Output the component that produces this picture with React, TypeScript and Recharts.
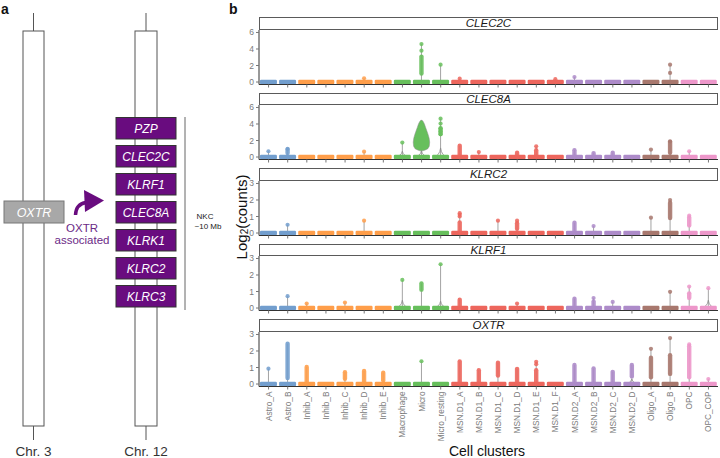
import React from 'react';
import { ComposedChart, Bar, XAxis, YAxis } from 'recharts';

const FONT = 'Liberation Sans, Arial, Helvetica, sans-serif';

const clusters = [
  'Astro_A', 'Astro_B', 'Inhib_A', 'Inhib_B', 'Inhib_C', 'Inhib_D', 'Inhib_E',
  'Macrophage', 'Micro', 'Micro_resting',
  'MSN.D1_A', 'MSN.D1_B', 'MSN.D1_C', 'MSN.D1_D', 'MSN.D1_E', 'MSN.D1_F',
  'MSN.D2_A', 'MSN.D2_B', 'MSN.D2_C', 'MSN.D2_D',
  'Oligo_A', 'Oligo_B', 'OPC', 'OPC_COP',
];
const clusterGroup = [
  'Astro', 'Astro', 'Inhib', 'Inhib', 'Inhib', 'Inhib', 'Inhib',
  'Micro', 'Micro', 'Micro',
  'D1', 'D1', 'D1', 'D1', 'D1', 'D1',
  'D2', 'D2', 'D2', 'D2',
  'Oligo', 'Oligo', 'OPC', 'OPC',
];
const groupColor: Record<string, string> = {
  Astro: '#729ECE', Inhib: '#FF9E4A', Micro: '#67BF5C', D1: '#ED665D',
  D2: '#AD8BC9', Oligo: '#A8786E', OPC: '#ED97CA',
};

const genes = ['CLEC2C', 'CLEC8A', 'KLRC2', 'KLRF1', 'OXTR'];
const geneScaleMax = [6, 6, 3, 3, 3];
const ticks6 = [0, 2, 4, 6];
const ticks3 = [0, 1, 2, 3];

// single points (log2 counts)
const clec2cDots: Record<string, number[]> = {
  Inhib_D: [0.45], Micro: [4.6, 3.8], Micro_resting: [2.1], 'MSN.D1_A': [0.4],
  'MSN.D1_F': [0.35], 'MSN.D2_A': [0.6], Oligo_B: [2.1, 1.1],
};
const clec8aDots: Record<string, number[]> = {
  Astro_A: [0.7], Astro_B: [1.0], Inhib_D: [0.65], Macrophage: [1.75],
  Micro_resting: [4.65, 4.05, 3.45, 3.1, 2.75], 'MSN.D1_B': [0.6], 'MSN.D1_E': [1.3],
  Oligo_A: [0.9], Oligo_B: [1.9], OPC: [0.7],
};
const klrc2Dots: Record<string, number[]> = {
  Astro_B: [0.5], Inhib_D: [0.75], 'MSN.D1_A': [1.2, 1.1, 1.0], 'MSN.D1_C': [0.75],
  'MSN.D1_D': [0.75], 'MSN.D2_B': [0.42], Oligo_A: [0.93], Oligo_B: [2.0], OPC: [1.05],
};
const klrf1Dots: Record<string, number[]> = {
  Astro_B: [0.72], Inhib_A: [0.27], Inhib_C: [0.33], Macrophage: [1.7], Micro_resting: [2.65],
  'MSN.D1_D': [0.27], 'MSN.D2_B': [0.6], 'MSN.D2_C': [0.37], Oligo_B: [0.98], OPC: [1.3],
  OPC_COP: [1.2],
};
const oxtrDots: Record<string, number[]> = {
  Astro_A: [0.93], Micro: [1.38], 'MSN.D1_E': [1.35, 1.2], Oligo_A: [2.13], Oligo_B: [2.78],
  OPC: [2.4], OPC_COP: [0.3],
};

// dense columns of points [from, to]
const clec2cDense: Record<string, number[]> = { Micro: [1.0, 3.1] };
const clec8aDense: Record<string, number[]> = {
  Astro_B: [0.45, 0.95], Micro_resting: [2.75, 3.5], 'MSN.D1_A': [0, 1.4], 'MSN.D1_D': [0, 0.55],
  'MSN.D1_E': [0, 0.85], 'MSN.D2_A': [0, 0.85], 'MSN.D2_B': [0, 0.5], 'MSN.D2_C': [0, 0.55],
  Oligo_B: [0.5, 1.85],
};
const klrc2Dense: Record<string, number[]> = {
  'MSN.D1_A': [0, 0.65], 'MSN.D1_D': [0.25, 0.6], 'MSN.D2_A': [0, 0.63],
  Oligo_B: [0.9, 1.85], OPC: [0.45, 0.95],
};
const klrf1Dense: Record<string, number[]> = {
  Micro: [1.1, 1.5], 'MSN.D1_A': [0, 0.52], 'MSN.D2_A': [0, 0.58], 'MSN.D2_B': [0, 0.4],
  OPC: [0.6, 0.9],
};
const oxtrDense: Record<string, number[]> = {
  Astro_B: [0.35, 2.45], Inhib_A: [0, 1.05], Inhib_C: [0.3, 0.73], Inhib_D: [0, 0.8],
  Inhib_E: [0.2, 0.7], 'MSN.D1_A': [0, 1.38], 'MSN.D1_B': [0, 0.85], 'MSN.D1_C': [0.5, 1.3],
  'MSN.D1_D': [0, 0.93], 'MSN.D1_E': [0, 0.85], 'MSN.D2_A': [0, 1.17], 'MSN.D2_B': [0, 0.95],
  'MSN.D2_C': [0, 0.75], 'MSN.D2_D': [0.45, 1.17], Oligo_A: [0.4, 1.6], Oligo_B: [0.6, 1.75],
  OPC: [0.4, 2.3],
};

// level where the violin outline closes above the zero band
const clec2cFan: Record<string, number> = {};
const clec8aFan: Record<string, number> = { Macrophage: 0.7, Micro: 0.75, Micro_resting: 1.1 };
const klrc2Fan: Record<string, number> = {};
const klrf1Fan: Record<string, number> = { Macrophage: 0.47, Micro_resting: 0.42, OPC_COP: 0.47 };
const oxtrFan: Record<string, number> = { 'MSN.D2_D': 0.3 };

// CLEC8A in Micro: [level, relative width]
const clec8aMicroViolin: number[][] = [
  [0.75, 0.15], [0.85, 0.45], [1.0, 0.75], [1.3, 0.92], [1.8, 0.97], [2.3, 0.9],
  [2.8, 0.76], [3.2, 0.62], [3.6, 0.48], [4.0, 0.35], [4.3, 0.2], [4.45, 0.08],
];

const geneDots = [clec2cDots, clec8aDots, klrc2Dots, klrf1Dots, oxtrDots];
const geneDense = [clec2cDense, clec8aDense, klrc2Dense, klrf1Dense, oxtrDense];
const geneFan = [clec2cFan, clec8aFan, klrc2Fan, klrf1Fan, oxtrFan];

const nkcGenes = ['PZP', 'CLEC2C', 'KLRF1', 'CLEC8A', 'KLRK1', 'KLRC2', 'KLRC3'];

const stripTops = [17.3, 92.8, 168.3, 243.8, 319.3];
const stripH = 12.3;
const plotH = 54.5;
const padTop = 6;

function ViolinShape(props: any) {
  const { x, y, width, height, payload } = props;
  if (x == null || !payload) return null;
  const [lo, hi] = payload.range;
  const py = (v: number) => y + (height * (hi - v)) / (hi - lo);
  const cx = x + width / 2;
  const y0 = py(0);
  const c = payload.color;
  const parts: any[] = [];
  if (payload.top > 0) {
    parts.push(<line key="t" x1={cx} x2={cx} y1={y0} y2={py(payload.top)} stroke="#8c8c8c" strokeWidth={0.8} />);
  }
  if (payload.fan > 0) {
    const yf = py(payload.fan);
    const hw = width * 0.42;
    parts.push(
      <path key="f" d={`M${cx - hw},${y0} Q${cx - 1},${y0 - 1} ${cx},${yf} Q${cx + 1},${y0 - 1} ${cx + hw},${y0}`}
        fill="none" stroke="#8c8c8c" strokeWidth={0.8} />
    );
  }
  parts.push(<rect key="b" x={x} y={y0 - 2.3} width={width} height={4.6} rx={1.2} fill={c} />);
  if (payload.profile) {
    const prof: number[][] = payload.profile;
    const left = prof.map(([v, w]) => `${cx - (w * width) / 2},${py(v)}`);
    const right = prof.slice().reverse().map(([v, w]) => `${cx + (w * width) / 2},${py(v)}`);
    parts.push(<polygon key="v" points={[...left, ...right].join(' ')} fill={c} stroke="#8c8c8c" strokeWidth={0.5} strokeLinejoin="round" />);
  }
  if (payload.dense) {
    const [a, b] = payload.dense;
    parts.push(<rect key="d" x={cx - 2.2} y={py(b) - 2} width={4.4} height={py(a) - py(b) + 4} rx={2.2} fill={c} opacity={0.9} />);
  }
  payload.dots.forEach((v: number, i: number) => {
    parts.push(<circle key={'p' + i} cx={cx} cy={py(v)} r={2.1} fill={c} opacity={0.85} />);
  });
  return <g>{parts}</g>;
}

const renderClusterTick = (p: any) => (
  <text x={p.x} y={p.y} transform={`rotate(-90 ${p.x} ${p.y})`} textAnchor="end" dominantBaseline="central"
    fontSize={8.3} fill="#7a7a7a" fontFamily={FONT}>{p.payload.value}</text>
);

function Facet({ idx }: { idx: number }) {
  const gene = genes[idx];
  const ymax = geneScaleMax[idx];
  const lo = -ymax * 0.05;
  const hi = ymax * 1.05;
  const rows = clusters.map((name, i) => {
    const d = geneDots[idx][name] ?? [];
    const dn = geneDense[idx][name] ?? null;
    const prof = idx === 1 && name === 'Micro' ? clec8aMicroViolin : null;
    const top = Math.max(0, ...d, dn ? dn[1] : 0, ...(prof ? prof.map((p) => p[0]) : []));
    return {
      name, range: [lo, top], top, dots: d, dense: dn, fan: geneFan[idx][name] ?? 0,
      profile: prof, color: groupColor[clusterGroup[i]],
    };
  });
  const bottom = idx === genes.length - 1;
  const top = stripTops[idx];
  const axisH = bottom ? 62 : 5;
  return (
    <>
      <div style={{
        position: 'absolute', left: 259, top, width: 459, height: stripH, boxSizing: 'border-box',
        border: '1px solid #5a5a5a', background: '#fff', fontFamily: FONT, fontStyle: 'italic',
        fontSize: 11.5, lineHeight: `${stripH - 2}px`, textAlign: 'center', color: '#1a1a1a',
      }}>{gene}</div>
      <div style={{ position: 'absolute', left: 230, top: top + stripH - padTop }}>
        <ComposedChart width={490} height={plotH + axisH + padTop} data={rows}
          margin={{ top: padTop, right: 2, bottom: 0, left: 0 }} barCategoryGap="5%">
          <XAxis dataKey="name" interval={0} height={axisH} tickSize={3} tickMargin={2}
            tickLine={{ stroke: '#777' }} axisLine={{ stroke: '#333' }}
            tick={bottom ? renderClusterTick : () => <g />} />
          <YAxis type="number" domain={[lo, hi]} allowDataOverflow ticks={ymax === 6 ? ticks6 : ticks3}
            interval={0} width={29} tickSize={3} tickMargin={2} tickLine={{ stroke: '#777' }} axisLine={{ stroke: '#333' }}
            tick={{ fontSize: 8.5, fill: '#7a7a7a', fontFamily: FONT }} />
          <Bar dataKey="range" shape={(p: any) => <ViolinShape {...p} />} isAnimationActive={false} />
        </ComposedChart>
      </div>
    </>
  );
}

function Diagram() {
  const purple = '#690c7f';
  return (
    <svg width={720} height={458} style={{ position: 'absolute', left: 0, top: 0 }} fontFamily={FONT}>
      <text x={1} y={14} fontSize={14} fontWeight="bold" fill="#111">a</text>
      <text x={229} y={14} fontSize={14} fontWeight="bold" fill="#111">b</text>

      <line x1={33.5} y1={13} x2={33.5} y2={440} stroke="#555" />
      <rect x={23} y={31} width={21} height={395} fill="#fff" stroke="#555" />
      <line x1={146} y1={13} x2={146} y2={440} stroke="#555" />
      <rect x={135} y={31} width={22} height={395} fill="#fff" stroke="#555" />

      <rect x={4} y={201} width={60} height={22} fill="#a8a8a8" stroke="#777" />
      <text x={34} y={216.5} fontSize={12.5} fontStyle="italic" fill="#fff" textAnchor="middle">OXTR</text>

      {nkcGenes.map((g, i) => (
        <g key={g}>
          <rect x={116} y={117.5 + i * 28} width={60} height={21.5} fill={purple} stroke="#333" />
          <text x={146} y={132.5 + i * 28} fontSize={12} fontStyle="italic" fill="#fff" textAnchor="middle">{g}</text>
        </g>
      ))}

      <path d="M75.5,215 Q76,204 86,202.5" fill="none" stroke={purple} strokeWidth={3.5} />
      <polygon points="84,190 104,200.5 85,212" fill={purple} />
      <text x={82} y={231.5} fontSize={11.5} fill="#6b2a86" textAnchor="middle">OXTR</text>
      <text x={82} y={243.5} fontSize={11.5} fill="#6b2a86" textAnchor="middle">associated</text>

      <line x1={185} y1={117} x2={185} y2={310} stroke="#666" />
      <text x={205} y={218.5} fontSize={8} fill="#222" textAnchor="middle">NKC</text>
      <text x={208} y={228.5} fontSize={8} fill="#222" textAnchor="middle">~10 Mb</text>

      <text x={33.5} y={456} fontSize={13.5} fill="#333" textAnchor="middle">Chr. 3</text>
      <text x={146} y={456} fontSize={13.5} fill="#333" textAnchor="middle">Chr. 12</text>

      <text x={241} y={217} transform="rotate(-90 241 217)" fontSize={15} fill="#111" textAnchor="middle" dominantBaseline="central">
        Log<tspan dy={3} fontSize={10}>2</tspan><tspan dy={-3}>(counts)</tspan>
      </text>
      <text x={487} y={456} fontSize={14} fill="#111" textAnchor="middle">Cell clusters</text>
    </svg>
  );
}

export default function App() {
  return (
    <div style={{ position: 'absolute', left: 0, top: 0, width: 720, height: 458, background: '#fff', overflow: 'hidden' }}>
      <Diagram />
      {genes.map((g, i) => <Facet key={g} idx={i} />)}
    </div>
  );
}
